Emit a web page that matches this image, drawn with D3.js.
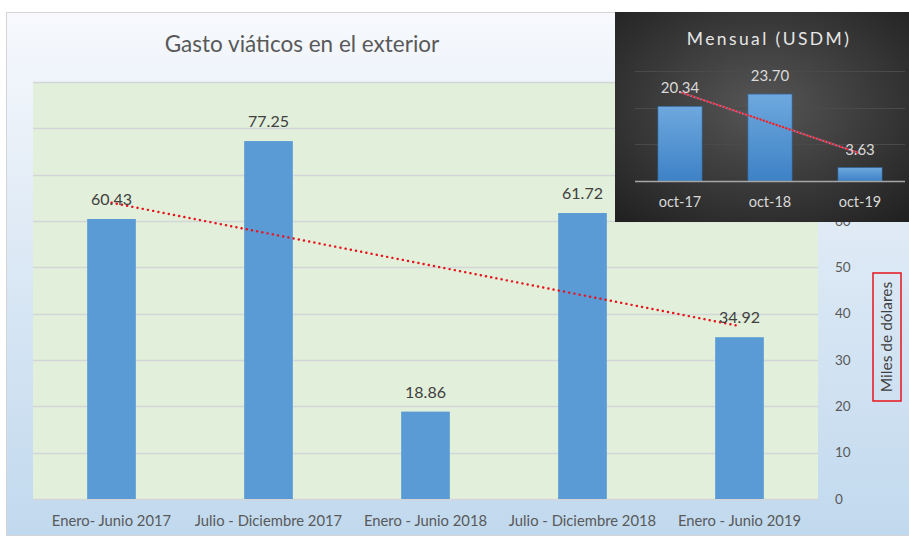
<!DOCTYPE html>
<html>
<head>
<meta charset="utf-8">
<script src="https://cdn.jsdelivr.net/npm/d3@7"></script>
<style>
  body { margin: 0; background: #fff; }
  svg { display: block; font-family: Lato, "Open Sans", sans-serif; }
</style>
</head>
<body>
<div id="chart"></div>
<script>
// main chart data
const periods = ["Enero- Junio 2017", "Julio - Diciembre 2017", "Enero - Junio 2018", "Julio - Diciembre 2018", "Enero - Junio 2019"]
const gasto = [60.43, 77.25, 18.86, 61.72, 34.92]
const yTicks = [0, 10, 20, 30, 40, 50, 60, 70, 80, 90]

// inset data
const meses = ["oct-17", "oct-18", "oct-19"]
const mensual = [20.34, 23.70, 3.63]
const insetTicks = [0, 10, 20, 30]

const width = 909
const height = 538

const svg = d3.select("#chart")
    .append("svg")
    .attr("width", width)
    .attr("height", height)

const defs = svg.append("defs")

const bgGrad = defs.append("linearGradient")
    .attr("id", "bg")
    .attr("x1", 0).attr("y1", 0).attr("x2", 0).attr("y2", 1)
bgGrad.append("stop").attr("offset", "0%").attr("stop-color", "#f7f9fd")
bgGrad.append("stop").attr("offset", "45%").attr("stop-color", "#dde9f5")
bgGrad.append("stop").attr("offset", "100%").attr("stop-color", "#c1d9ee")

const darkGrad = defs.append("radialGradient")
    .attr("id", "dark")
    .attr("cx", "50%").attr("cy", "45%").attr("r", "75%")
darkGrad.append("stop").attr("offset", "0%").attr("stop-color", "#565656")
darkGrad.append("stop").attr("offset", "100%").attr("stop-color", "#1f1f1f")

const barGrad = defs.append("linearGradient")
    .attr("id", "insetBar")
    .attr("x1", 0).attr("y1", 0).attr("x2", 0).attr("y2", 1)
barGrad.append("stop").attr("offset", "0%").attr("stop-color", "#6ea8de")
barGrad.append("stop").attr("offset", "100%").attr("stop-color", "#3d82c6")

// chart area background
svg.append("rect")
    .attr("x", 6.5).attr("y", 12.5)
    .attr("width", 903).attr("height", 523)
    .attr("fill", "url(#bg)")
    .attr("stroke", "#d4d4d4")

const plot = { left: 33, right: 818, top: 82, bottom: 499 }

svg.append("rect")
    .attr("x", plot.left).attr("y", plot.top)
    .attr("width", plot.right - plot.left).attr("height", plot.bottom - plot.top)
    .attr("fill", "#e2efda")

const x = d3.scaleBand()
    .domain(periods)
    .range([plot.left, plot.right])
    .paddingInner(0.69)
    .paddingOuter(0.345)

const y = d3.scaleLinear()
    .domain([0, 90])
    .range([plot.bottom, plot.top])

// gridlines
svg.append("g")
    .selectAll("line")
    .data(yTicks)
    .join("line")
    .attr("x1", plot.left).attr("x2", plot.right)
    .attr("y1", d => Math.round(y(d)) + 0.5)
    .attr("y2", d => Math.round(y(d)) + 0.5)
    .attr("stroke", "#d3d6d9")
    .attr("stroke-width", 1.3)

// right axis
const yAxis = svg.append("g")
    .attr("transform", `translate(${plot.right},0)`)
    .call(d3.axisRight(y).tickValues(yTicks).tickSize(0).tickPadding(17))
yAxis.select(".domain").remove()
yAxis.selectAll("text")
    .attr("fill", "#595959")
    .style("font-size", "13.5px")
    .style("font-family", "Lato, sans-serif")

// bars
svg.append("g")
    .selectAll("rect")
    .data(gasto)
    .join("rect")
    .attr("x", (d, i) => x(periods[i]))
    .attr("y", d => y(d))
    .attr("width", x.bandwidth())
    .attr("height", d => y(0) - y(d))
    .attr("fill", "#5b9bd5")

// x axis labels
const xAxis = svg.append("g")
    .attr("transform", `translate(0,${plot.bottom})`)
    .call(d3.axisBottom(x).tickSize(0).tickPadding(16))
xAxis.select(".domain").remove()
xAxis.selectAll("text")
    .attr("fill", "#595959")
    .style("font-size", "14.8px")
    .style("font-family", "Lato, sans-serif")

// linear trend
function trend(vals) {
    const n = vals.length
    const xs = d3.range(1, n + 1)
    const mx = d3.mean(xs), my = d3.mean(vals)
    const slope = d3.sum(xs, (xi, i) => (xi - mx) * (vals[i] - my)) / d3.sum(xs, xi => (xi - mx) ** 2)
    return xs.map(xi => my + slope * (xi - mx))
}

const mainTrend = trend(gasto)
svg.append("line")
    .attr("x1", x(periods[0]) + x.bandwidth() / 2)
    .attr("y1", y(mainTrend[0]))
    .attr("x2", x(periods[4]) + x.bandwidth() / 2)
    .attr("y2", y(mainTrend[4]))
    .attr("stroke", "#e8141c")
    .attr("stroke-width", 2.4)
    .attr("stroke-dasharray", "0.1,5.2")
    .attr("stroke-linecap", "round")

// data labels
svg.append("g")
    .selectAll("text")
    .data(gasto)
    .join("text")
    .attr("x", (d, i) => x(periods[i]) + x.bandwidth() / 2)
    .attr("y", d => y(d) - 14)
    .attr("text-anchor", "middle")
    .attr("fill", "#404040")
    .style("font-size", "16px")
    .text(d => d.toFixed(2))

// title
svg.append("text")
    .attr("x", 302).attr("y", 52)
    .attr("text-anchor", "middle")
    .attr("fill", "#595959")
    .style("font-size", "22.5px")
    .text("Gasto viáticos en el exterior")

// axis title with red box
const axTitle = svg.append("g")
    .attr("transform", "translate(887,337) rotate(-90)")
axTitle.append("rect")
    .attr("x", -64).attr("y", -14)
    .attr("width", 128).attr("height", 28)
    .attr("fill", "none")
    .attr("stroke", "#e8141c")
    .attr("stroke-width", 1.5)
axTitle.append("text")
    .attr("text-anchor", "middle")
    .attr("dy", "0.35em")
    .attr("fill", "#404040")
    .style("font-size", "15.5px")
    .text("Miles de dólares")

// ---- inset ----
const inset = svg.append("g")

inset.append("rect")
    .attr("x", 615).attr("y", 12)
    .attr("width", 294).attr("height", 210)
    .attr("fill", "url(#dark)")

inset.append("text")
    .attr("x", 769).attr("y", 45)
    .attr("text-anchor", "middle")
    .attr("fill", "#e6e6e6")
    .style("font-size", "17.5px")
    .style("letter-spacing", "2.4px")
    .text("Mensual (USDM)")

const ix = d3.scaleBand()
    .domain(meses)
    .range([635, 905])
    .paddingInner(0.51)
    .paddingOuter(0.255)

const iy = d3.scaleLinear()
    .domain([0, 30])
    .range([181, 71])

inset.append("g")
    .selectAll("line")
    .data(insetTicks.slice(1))
    .join("line")
    .attr("x1", 635).attr("x2", 905)
    .attr("y1", d => Math.round(iy(d)) + 0.5)
    .attr("y2", d => Math.round(iy(d)) + 0.5)
    .attr("stroke", "#4a4a4a")

inset.append("g")
    .selectAll("rect")
    .data(mensual)
    .join("rect")
    .attr("x", (d, i) => ix(meses[i]))
    .attr("y", d => iy(d))
    .attr("width", ix.bandwidth())
    .attr("height", d => iy(0) - iy(d))
    .attr("fill", "url(#insetBar)")
    .attr("stroke", "#2f6da8")
    .attr("stroke-width", 0.6)

inset.append("line")
    .attr("x1", 635).attr("x2", 905)
    .attr("y1", iy(0) + 0.5).attr("y2", iy(0) + 0.5)
    .attr("stroke", "#a6a6a6")
    .attr("stroke-width", 1.5)

const insetTrend = trend(mensual)
const tx1 = ix(meses[0]) + ix.bandwidth() / 2
const tx2 = ix(meses[2]) + ix.bandwidth() / 2
inset.append("line")
    .attr("x1", tx1).attr("y1", iy(insetTrend[0]))
    .attr("x2", tx2).attr("y2", iy(insetTrend[2]))
    .attr("stroke", "#6f8fc0")
    .attr("stroke-width", 2)
inset.append("line")
    .attr("x1", tx1).attr("y1", iy(insetTrend[0]))
    .attr("x2", tx2).attr("y2", iy(insetTrend[2]))
    .attr("stroke", "#ff1a1a")
    .attr("stroke-width", 2.2)
    .attr("stroke-dasharray", "0.1,3.3")
    .attr("stroke-linecap", "round")

inset.append("g")
    .selectAll("text")
    .data(mensual)
    .join("text")
    .attr("x", (d, i) => ix(meses[i]) + ix.bandwidth() / 2)
    .attr("y", d => iy(d) - 13)
    .attr("text-anchor", "middle")
    .attr("fill", "#d9d9d9")
    .style("font-size", "15px")
    .text(d => d.toFixed(2))

inset.append("g")
    .selectAll("text")
    .data(meses)
    .join("text")
    .attr("x", d => ix(d) + ix.bandwidth() / 2)
    .attr("y", 207)
    .attr("text-anchor", "middle")
    .attr("fill", "#d9d9d9")
    .style("font-size", "14.5px")
    .text(d => d)
</script>
</body>
</html>
